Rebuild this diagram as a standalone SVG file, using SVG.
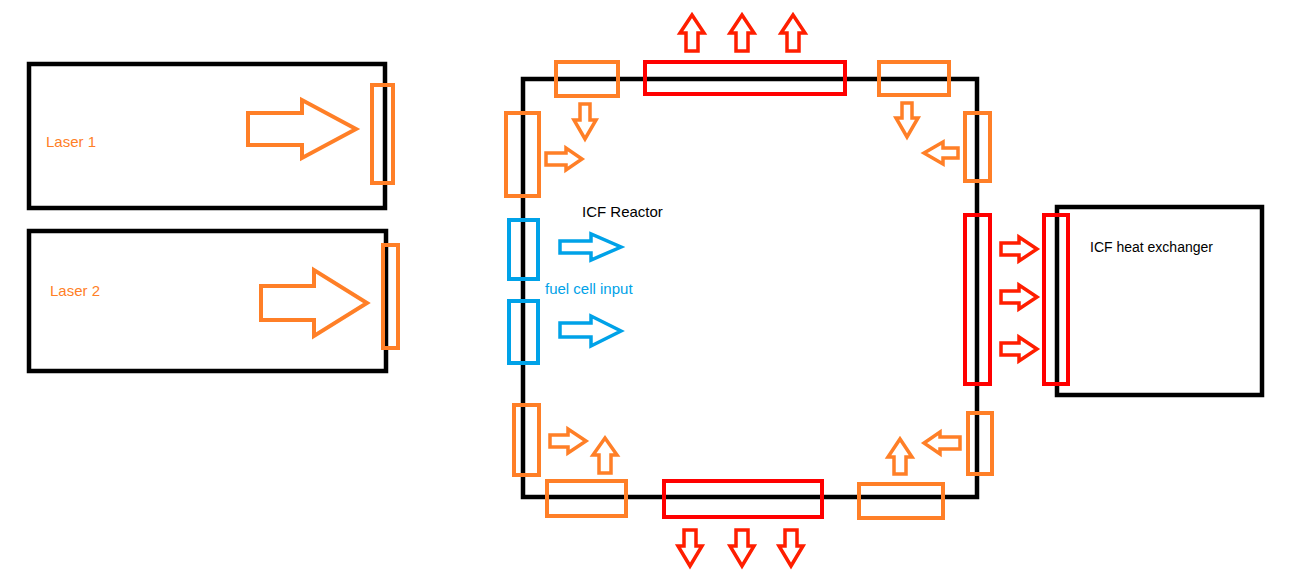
<svg xmlns="http://www.w3.org/2000/svg" width="1296" height="583" viewBox="0 0 1296 583">
<style>
.frame{fill:none;stroke:#000;stroke-width:4.5}
.po{fill:none;stroke:#ff7f27;stroke-width:4}
.pr{fill:none;stroke:#ff0000;stroke-width:4}
.pb{fill:none;stroke:#00a2e8;stroke-width:4}
.ao{fill:none;stroke:#ff7f27;stroke-width:3.5;stroke-linejoin:miter}
.ar{fill:none;stroke:#ff1e00;stroke-width:3.5;stroke-linejoin:miter}
.ab{fill:none;stroke:#00a2e8;stroke-width:3.5;stroke-linejoin:miter}
.t{font-family:"Liberation Sans",Arial,sans-serif;font-size:15px}
</style>
<rect width="1296" height="583" fill="#fff"/>

<g id="laser1">
<rect class="frame" x="29" y="64" width="356" height="144"/>
<rect class="po" x="372" y="85" width="21" height="98"/>
<text class="t" x="46" y="147" fill="#ff7f27">Laser 1</text>
</g>

<g id="laser2">
<rect class="frame" x="29" y="231" width="357" height="140"/>
<rect class="po" x="383" y="245" width="15" height="103"/>
<text class="t" x="50" y="296" fill="#ff7f27">Laser 2</text>
</g>

<g id="reactor">
<rect class="frame" x="523" y="79" width="454" height="418"/>
<rect class="po" x="556" y="62" width="62" height="34"/>
<rect class="pr" x="645" y="62" width="200" height="32"/>
<rect class="po" x="879" y="62" width="70" height="33"/>
<rect class="po" x="506" y="113" width="33" height="83"/>
<rect class="po" x="965" y="113" width="25" height="68"/>
<rect class="pb" x="509" y="220" width="29" height="59"/>
<rect class="pb" x="509" y="301" width="29" height="62"/>
<rect class="pr" x="965" y="215" width="25" height="169"/>
<rect class="po" x="514" y="405" width="25" height="70"/>
<rect class="po" x="968" y="413" width="24" height="61"/>
<rect class="po" x="547" y="481" width="79" height="35"/>
<rect class="pr" x="664" y="481" width="158" height="36"/>
<rect class="po" x="859" y="484" width="84" height="34"/>
<text class="t" x="582" y="217" fill="#000">ICF Reactor</text>
<text class="t" x="545" y="294" fill="#00a2e8">fuel cell input</text>
</g>

<g id="heat-exchanger">
<rect class="frame" x="1057" y="207" width="205" height="188"/>
<rect class="pr" x="1044" y="215" width="24" height="169"/>
<text class="t" x="1090" y="252" fill="#000" style="font-size:14px">ICF heat exchanger</text>
</g>

<g id="connectors">
<path class="ao" style="stroke-width:4" d="M248,113 L302,113 L302,100 L356,129 L302,158 L302,145 L248,145 Z"/>
<path class="ao" style="stroke-width:4" d="M261,286 L314,286 L314,270 L367,303 L314,336 L314,320 L261,320 Z"/>
<path class="ab" d="M560,241 L591,241 L591,234 L621,247 L591,260 L591,253 L560,253 Z"/>
<path class="ab" d="M560,323 L591,323 L591,316 L621,331 L591,346 L591,337 L560,337 Z"/>
<path class="ao" d="M580,104 L590,104 L590,120 L596,120 L585,139 L574,120 L580,120 Z"/>
<path class="ao" d="M546,153 L566,153 L566,148 L582,159 L566,170 L566,165 L546,165 Z"/>
<path class="ao" d="M902,103 L912,103 L912,118 L918,118 L907,137 L896,118 L902,118 Z"/>
<path class="ao" d="M958,148 L943,148 L943,142 L924,153 L943,164 L943,158 L958,158 Z"/>
<path class="ao" d="M550,435 L568,435 L568,429 L586,441 L568,453 L568,447 L550,447 Z"/>
<path class="ao" d="M599,473 L611,473 L611,455 L617,455 L605,438 L593,455 L599,455 Z"/>
<path class="ao" d="M894,474 L906,474 L906,457 L912,457 L900,439 L888,457 L894,457 Z"/>
<path class="ao" d="M960,437 L940,437 L940,432 L924,443 L940,454 L940,449 L960,449 Z"/>
<path class="ar" d="M686,51 L698,51 L698,33 L704,33 L692,15 L680,33 L686,33 Z"/>
<path class="ar" d="M736,51 L748,51 L748,33 L754,33 L742,15 L730,33 L736,33 Z"/>
<path class="ar" d="M787,51 L799,51 L799,33 L805,33 L793,15 L781,33 L787,33 Z"/>
<path class="ar" d="M684,530 L696,530 L696,546 L702,546 L690,566 L678,546 L684,546 Z"/>
<path class="ar" d="M736,530 L748,530 L748,546 L754,546 L742,566 L730,546 L736,546 Z"/>
<path class="ar" d="M785,530 L797,530 L797,546 L803,546 L791,566 L779,546 L785,546 Z"/>
<path class="ar" d="M1001,243 L1019,243 L1019,237 L1037,249 L1019,261 L1019,255 L1001,255 Z"/>
<path class="ar" d="M1001,291 L1019,291 L1019,285 L1037,297 L1019,309 L1019,303 L1001,303 Z"/>
<path class="ar" d="M1001,343 L1019,343 L1019,337 L1037,349 L1019,361 L1019,355 L1001,355 Z"/>
</g>
</svg>
